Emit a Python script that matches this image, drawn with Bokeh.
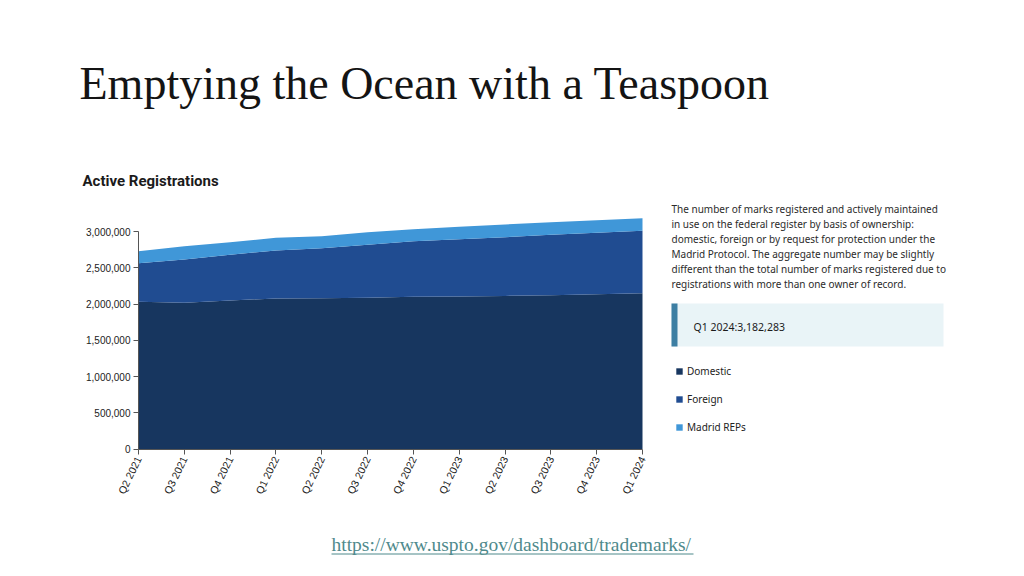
import math
from bokeh.plotting import figure
from bokeh.models import (Range1d, FixedTicker, Label, BoxAnnotation, Legend, LegendItem,
                          NumeralTickFormatter)
from bokeh.embed import file_html
from bokeh.resources import INLINE

# ---- data ----
quarters = ["Q2 2021", "Q3 2021", "Q4 2021", "Q1 2022", "Q2 2022", "Q3 2022",
            "Q4 2022", "Q1 2023", "Q2 2023", "Q3 2023", "Q4 2023", "Q1 2024"]
domestic = [2030000, 2018000, 2050000, 2075000, 2078000, 2085000,
            2100000, 2105000, 2112000, 2122000, 2135000, 2148000]
foreign = [533000, 596000, 629000, 663000, 692000, 732000,
           766000, 789000, 809000, 832000, 847000, 862000]
madrid = [165000, 183000, 173000, 175000, 165000, 173000,
          164000, 171000, 176000, 174000, 174000, 172283]
y_ticks = [0, 500000, 1000000, 1500000, 2000000, 2500000, 3000000]
series_names = ["Domestic", "Foreign", "Madrid REPs"]
colors = ["#17365f", "#204c91", "#4097d8"]

description = [
    "The number of marks registered and actively maintained",
    "in use on the federal register by basis of ownership:",
    "domestic, foreign or by request for protection under the",
    "Madrid Protocol. The aggregate number may be slightly",
    "different than the total number of marks registered due to",
    "registrations with more than one owner of record.",
]

# ---- layout (page pixels) ----
W, H = 1024, 576
PX_L, PX_R = 138, 642      # where first / last quarter sit
PY_0, PY_3M = 448.5, 231   # where 0 and 3,000,000 sit

n = len(quarters)
ux = (PX_R - PX_L) / (n - 1)            # px per quarter
uy = (PY_0 - PY_3M) / 3000000           # px per registration
x_range = Range1d(-PX_L / ux, (n - 1) + (W - PX_R) / ux)
y_range = Range1d(-(H - PY_0) / uy, PY_0 / uy)

p = figure(width=W, height=H, output_backend="svg", toolbar_location=None,
           x_range=x_range, y_range=y_range,
           min_border=0, min_border_left=0, min_border_right=0,
           min_border_top=0, min_border_bottom=0,
           background_fill_color="white", border_fill_color="white",
           outline_line_color=None)
p.grid.visible = False

xs = list(range(n))
base = [0] * n
top1 = list(domestic)
top2 = [a + b for a, b in zip(domestic, foreign)]
top3 = [a + b + c for a, b, c in zip(domestic, foreign, madrid)]
r1 = p.varea(x=xs, y1=base, y2=top1, fill_color=colors[0])
r2 = p.varea(x=xs, y1=top1, y2=top2, fill_color=colors[1])
r3 = p.varea(x=xs, y1=top2, y2=top3, fill_color=colors[2])

# axes, pinned to the data origin
ax = p.xaxis[0]
ax.fixed_location = 0
ax.bounds = (0, n - 1)
ax.ticker = FixedTicker(ticks=xs)
ax.major_label_overrides = {i: q for i, q in enumerate(quarters)}
ax.major_label_orientation = math.radians(64)
ax.major_label_text_font = "Liberation Sans"
ax.major_label_text_font_size = "10.5px"
ax.major_label_text_color = "#222222"
ax.axis_line_color = "#555555"
ax.major_tick_line_color = "#555555"
ax.major_tick_out = 5
ax.major_tick_in = 0
ax.minor_tick_line_color = None
ax.major_label_standoff = 3

ay = p.yaxis[0]
ay.fixed_location = 0
ay.bounds = (0, 3000000)
ay.ticker = FixedTicker(ticks=y_ticks)
ay.formatter = NumeralTickFormatter(format="0,0")
ay.major_label_text_font = "Liberation Sans"
ay.major_label_text_font_size = "10px"
ay.major_label_text_color = "#222222"
ay.axis_line_color = "#555555"
ay.major_tick_line_color = "#555555"
ay.major_tick_out = 5
ay.major_tick_in = 0
ay.minor_tick_line_color = None
ay.major_label_standoff = 3


def lab(text, X, Y, size, font="Noto Sans", color="#222222", style="normal",
        baseline="middle", align="left"):
    p.add_layout(Label(x=X, y=H - Y, x_units="screen", y_units="screen",
                       text=text, text_font=font, text_font_size=size,
                       text_color=color, text_font_style=style,
                       text_baseline=baseline, text_align=align))


def box(x0, x1, y0, y1, color):
    p.add_layout(BoxAnnotation(left=x0, right=x1, top=H - y0, bottom=H - y1,
                               left_units="screen", right_units="screen",
                               top_units="screen", bottom_units="screen",
                               fill_color=color, fill_alpha=1, line_color=None))


# slide title
lab("Emptying the Ocean with a Teaspoon", 79, 82.5, "46px", font="Liberation Serif",
    color="#141414", baseline="alphabetic")
# chart title
lab("Active Registrations", 82, 180, "15px", font="Roboto", color="#1b1b1b", style="bold")

# description
for i, line in enumerate(description):
    lab(line, 671, 208 + i * 15, "10px", color="#2b2b2b")

# highlight box
box(671, 943, 303, 346, "#e9f4f7")
box(671, 677, 303, 346, "#3d7fa3")
lab("Q1 2024:3,182,283", 693, 326, "10.5px", color="#1b1b1b")

# legend
legend = Legend(items=[LegendItem(label=nm, renderers=[r]) for nm, r in
                       zip(series_names, [r1, r2, r3])],
                location=(675, H - 434), orientation="vertical",
                glyph_width=8, glyph_height=8, label_standoff=4, spacing=14,
                label_text_font="Noto Sans", label_text_font_size="10px",
                label_text_color="#222222", label_height=13, padding=0, margin=0,
                border_line_color=None, background_fill_alpha=0)
p.add_layout(legend, "center")

# source URL
lab("https://www.uspto.gov/dashboard/trademarks/", 331, 544, "19.5px",
    font="Liberation Serif", color="#4f8a8c", baseline="alphabetic")
box(331, 693, 553, 554, "#4f8a8c")

open("out.html", "w").write(file_html(p, INLINE))
